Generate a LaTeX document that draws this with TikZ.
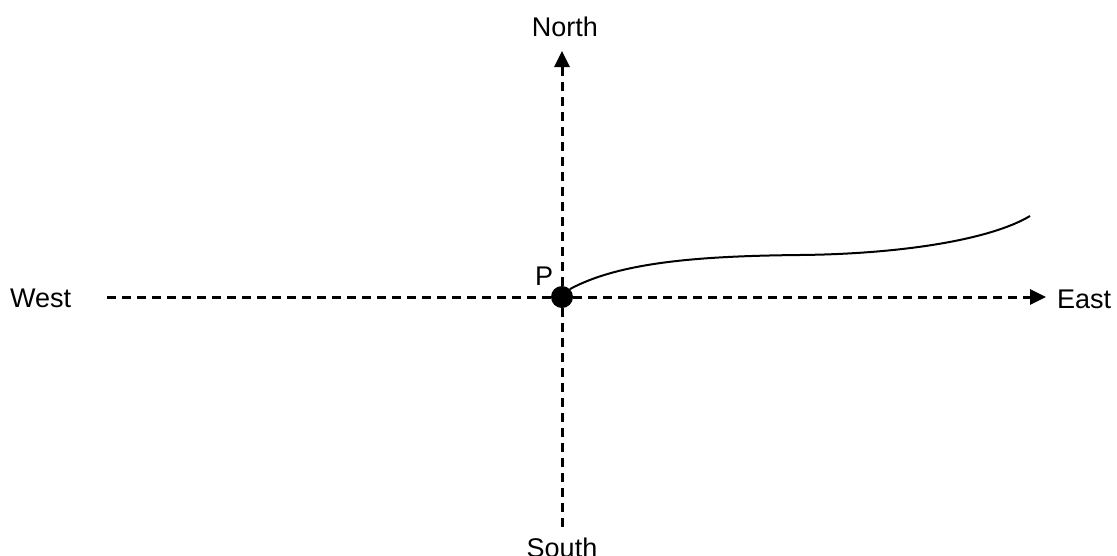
\documentclass[tikz,border=0pt]{standalone}
\usepackage{fontspec}
\setmainfont{Liberation Sans}
\usetikzlibrary{arrows.meta}

\begin{document}
\begin{tikzpicture}[x=1pt,y=-1pt,
  axis/.style={line width=3pt, dash pattern=on 9pt off 6pt, -{Triangle[length=16pt,width=15pt]}},
  plainaxis/.style={line width=3pt, dash pattern=on 9pt off 6pt},
  lbl/.style={inner sep=0pt, font=\fontsize{27}{32}\selectfont}]
\useasboundingbox (0,0) rectangle (1117,555);
\node[lbl] (north) at (565,27) {North};
\node[lbl] (south) at (562,548) {South};
\node[lbl, anchor=west] (west) at (10,298) {West};
\node[lbl, anchor=west] (east) at (1057,299) {East};
\node[lbl] (plabel) at (544,276) {P};
\coordinate (ntip) at (562,51);
\coordinate (sbot) at (562,527);
\coordinate (wend) at (106,297);
\coordinate (etip) at (1046,297);
\coordinate (cmid) at (800,255);
\coordinate (cend) at (1030,216);
\node[circle, fill=black, minimum size=22pt, inner sep=0pt] (p) at (562,297) {};
\draw[axis] (p) -- (ntip);
\draw[plainaxis] (p) -- (sbot);
\draw[plainaxis] (p) -- (wend);
\draw[axis] (p) -- (etip);
\draw[line width=2pt] (p.north east) .. controls (620,262) and (700,256) .. (cmid)
  .. controls (900,254) and (990,240) .. (cend);
\end{tikzpicture}
\end{document}
